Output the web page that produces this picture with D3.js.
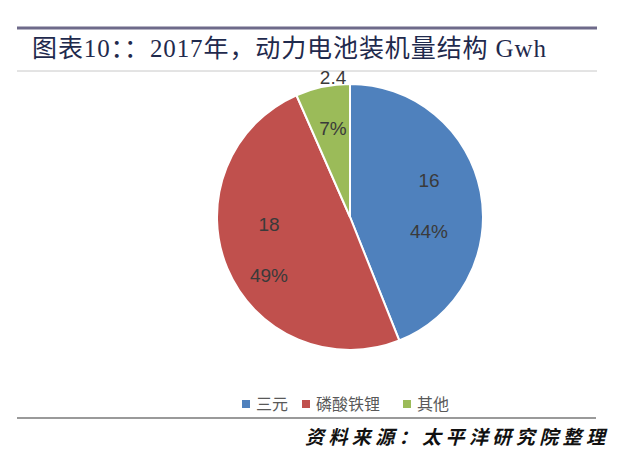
<!DOCTYPE html>
<html>
<head>
<meta charset="utf-8">
<script src="https://cdn.jsdelivr.net/npm/d3@7"></script>
<style>
  body { margin: 0; background: #fff; }
  text { font-family: "Liberation Sans", "Noto Sans CJK SC", sans-serif; }
</style>
</head>
<body>
<div id="viz"></div>
<script>
// data
var categories = ["三元", "磷酸铁锂", "其他"];
var values = [16, 18, 2.4];
var percents = ["44%", "49%", "7%"];
var colors = ["#4f81bd", "#c0504d", "#9bbb59"];

var width = 640,
    height = 457;

var svg = d3.select("#viz")
  .append("svg")
  .attr("width", width)
  .attr("height", height);

svg.append("rect").attr("width", width).attr("height", height).attr("fill", "#fff");

// header rules
svg.append("line")
  .attr("x1", 17).attr("x2", 597).attr("y1", 28).attr("y2", 28)
  .attr("stroke", "#6e6a8a").attr("stroke-width", 3);
svg.append("line")
  .attr("x1", 17).attr("x2", 597).attr("y1", 71).attr("y2", 71)
  .attr("stroke", "#c8c8c8").attr("stroke-width", 1);

// title
svg.append("text")
  .attr("x", 32).attr("y", 57)
  .attr("fill", "#1f2a4d")
  .attr("textLength", 514)
  .attr("lengthAdjust", "spacing")
  .style("font-family", "'Liberation Serif', 'Noto Sans CJK SC', serif")
  .style("font-size", "25px")
  .text("图表10：：2017年，动力电池装机量结构 Gwh");

// pie
var cx = 350, cy = 217, r = 133;
var pie = d3.pie().sort(null).value(function(d) { return d; });
var arcs = pie(values);
var arc = d3.arc().innerRadius(0).outerRadius(r);

var g = svg.append("g").attr("transform", "translate(" + cx + "," + cy + ")");

g.selectAll("path")
  .data(arcs)
  .enter()
  .append("path")
  .attr("d", arc)
  .attr("fill", function(d, i) { return colors[i]; })
  .attr("stroke", "#fff")
  .attr("stroke-width", 2);

// label positions (value above, percent below)
var labelArc = d3.arc().innerRadius(r * 0.62).outerRadius(r * 0.62);
var labelOffsets = [
  { dx: -2, dy: 4 },
  { dx: -5, dy: 0 },
  { dx: 0, dy: -34 }
];

var labels = g.selectAll(".lbl")
  .data(arcs)
  .enter()
  .append("g")
  .attr("class", "lbl")
  .attr("transform", function(d, i) {
    var c = labelArc.centroid(d);
    return "translate(" + (c[0] + labelOffsets[i].dx) + "," + (c[1] + labelOffsets[i].dy) + ")";
  });

labels.append("text")
  .attr("text-anchor", "middle")
  .attr("y", -18)
  .attr("fill", "#3a3a3a")
  .style("font-size", "19px")
  .text(function(d) { return d.data; });

labels.append("text")
  .attr("text-anchor", "middle")
  .attr("y", 33)
  .attr("fill", "#3a3a3a")
  .style("font-size", "19px")
  .text(function(d, i) { return percents[i]; });

// legend
var legendX = [242, 302, 403];
var legend = svg.selectAll(".legend")
  .data(categories)
  .enter()
  .append("g")
  .attr("class", "legend")
  .attr("transform", function(d, i) { return "translate(" + legendX[i] + ",404)"; });

legend.append("rect")
  .attr("x", 0).attr("y", -4)
  .attr("width", 8).attr("height", 8)
  .attr("fill", function(d, i) { return colors[i]; });

legend.append("text")
  .attr("x", 14).attr("y", 6)
  .attr("fill", "#595959")
  .style("font-family", "'Noto Sans CJK SC', sans-serif")
  .style("font-size", "16px")
  .text(function(d) { return d; });

// bottom rule and source
svg.append("line")
  .attr("x1", 17).attr("x2", 596).attr("y1", 418).attr("y2", 418)
  .attr("stroke", "#9a9a9a").attr("stroke-width", 2);

svg.append("text")
  .attr("x", 305).attr("y", 444)
  .attr("fill", "#111")
  .attr("textLength", 300)
  .attr("lengthAdjust", "spacing")
  .style("font-family", "'Noto Sans CJK SC', sans-serif")
  .style("font-style", "italic")
  .style("font-weight", "bold")
  .style("font-size", "19px")
  .text("资料来源：太平洋研究院整理");
</script>
</body>
</html>
